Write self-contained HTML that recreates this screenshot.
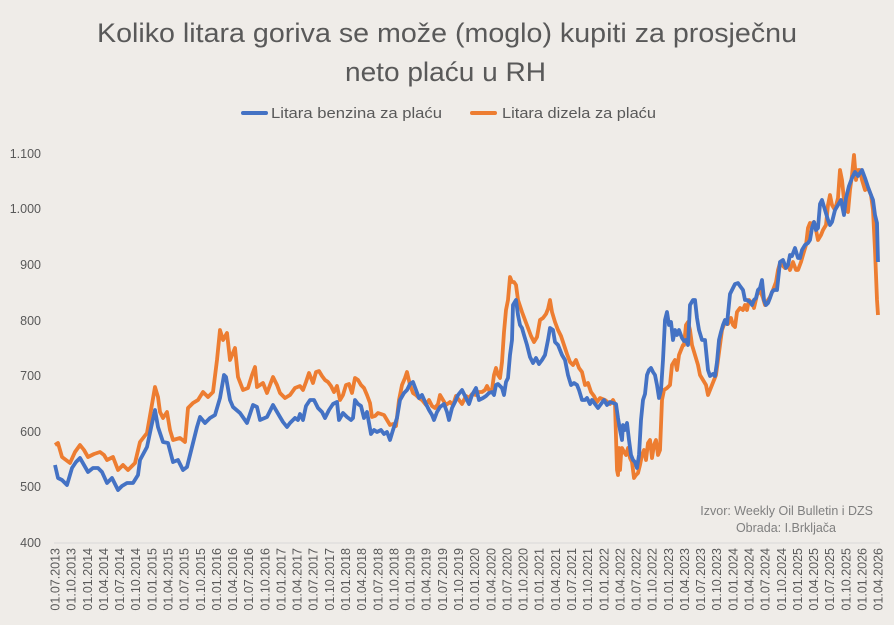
<!DOCTYPE html>
<html><head><meta charset="utf-8"><style>
html,body{margin:0;padding:0;background:#EFECE8;}
svg{display:block;font-family:"Liberation Sans",sans-serif;}
</style></head><body>
<svg width="894" height="625" viewBox="0 0 894 625">
<rect width="894" height="625" fill="#EFECE8"/>
<text x="97" y="42" textLength="700" lengthAdjust="spacingAndGlyphs" font-size="27" fill="#595959">Koliko litara goriva se može (moglo) kupiti za prosječnu</text>
<text x="345" y="81" textLength="201" lengthAdjust="spacingAndGlyphs" font-size="27" fill="#595959">neto plaću u RH</text>
<line x1="243" y1="113" x2="266" y2="113" stroke="#4472C4" stroke-width="4" stroke-linecap="round"/>
<text x="271" y="118" textLength="171" lengthAdjust="spacingAndGlyphs" font-size="15" fill="#595959">Litara benzina za plaću</text>
<line x1="472" y1="113" x2="495" y2="113" stroke="#ED7D31" stroke-width="4" stroke-linecap="round"/>
<text x="502" y="118" textLength="154" lengthAdjust="spacingAndGlyphs" font-size="15" fill="#595959">Litara dizela za plaću</text>
<g font-size="12.5" fill="#595959" text-anchor="end">
<text x="41" y="158">1.100</text><text x="41" y="213">1.000</text><text x="41" y="269">900</text><text x="41" y="325">800</text><text x="41" y="380">700</text><text x="41" y="436">600</text><text x="41" y="491">500</text><text x="41" y="547">400</text>
</g>
<line x1="54" y1="543" x2="880" y2="543" stroke="#D9D9D9" stroke-width="1"/>
<text x="873" y="515" text-anchor="end" font-size="12.5" fill="#7F7F7F">Izvor: Weekly Oil Bulletin i DZS</text>
<text x="836" y="532" text-anchor="end" font-size="12.5" fill="#7F7F7F">Obrada: I.Brkljača</text>
<g font-size="12.5" fill="#595959" text-anchor="end">
<text transform="translate(59.5,548) rotate(-90)">01.07.2013</text>
<text transform="translate(75.6,548) rotate(-90)">01.10.2013</text>
<text transform="translate(91.8,548) rotate(-90)">01.01.2014</text>
<text transform="translate(107.9,548) rotate(-90)">01.04.2014</text>
<text transform="translate(124.1,548) rotate(-90)">01.07.2014</text>
<text transform="translate(140.2,548) rotate(-90)">01.10.2014</text>
<text transform="translate(156.3,548) rotate(-90)">01.01.2015</text>
<text transform="translate(172.5,548) rotate(-90)">01.04.2015</text>
<text transform="translate(188.6,548) rotate(-90)">01.07.2015</text>
<text transform="translate(204.8,548) rotate(-90)">01.10.2015</text>
<text transform="translate(220.9,548) rotate(-90)">01.01.2016</text>
<text transform="translate(237.0,548) rotate(-90)">01.04.2016</text>
<text transform="translate(253.2,548) rotate(-90)">01.07.2016</text>
<text transform="translate(269.3,548) rotate(-90)">01.10.2016</text>
<text transform="translate(285.5,548) rotate(-90)">01.01.2017</text>
<text transform="translate(301.6,548) rotate(-90)">01.04.2017</text>
<text transform="translate(317.7,548) rotate(-90)">01.07.2017</text>
<text transform="translate(333.9,548) rotate(-90)">01.10.2017</text>
<text transform="translate(350.0,548) rotate(-90)">01.01.2018</text>
<text transform="translate(366.2,548) rotate(-90)">01.04.2018</text>
<text transform="translate(382.3,548) rotate(-90)">01.07.2018</text>
<text transform="translate(398.4,548) rotate(-90)">01.10.2018</text>
<text transform="translate(414.6,548) rotate(-90)">01.01.2019</text>
<text transform="translate(430.7,548) rotate(-90)">01.04.2019</text>
<text transform="translate(446.9,548) rotate(-90)">01.07.2019</text>
<text transform="translate(463.0,548) rotate(-90)">01.10.2019</text>
<text transform="translate(479.1,548) rotate(-90)">01.01.2020</text>
<text transform="translate(495.3,548) rotate(-90)">01.04.2020</text>
<text transform="translate(511.4,548) rotate(-90)">01.07.2020</text>
<text transform="translate(527.6,548) rotate(-90)">01.10.2020</text>
<text transform="translate(543.7,548) rotate(-90)">01.01.2021</text>
<text transform="translate(559.8,548) rotate(-90)">01.04.2021</text>
<text transform="translate(576.0,548) rotate(-90)">01.07.2021</text>
<text transform="translate(592.1,548) rotate(-90)">01.10.2021</text>
<text transform="translate(608.3,548) rotate(-90)">01.01.2022</text>
<text transform="translate(624.4,548) rotate(-90)">01.04.2022</text>
<text transform="translate(640.5,548) rotate(-90)">01.07.2022</text>
<text transform="translate(656.7,548) rotate(-90)">01.10.2022</text>
<text transform="translate(672.8,548) rotate(-90)">01.01.2023</text>
<text transform="translate(689.0,548) rotate(-90)">01.04.2023</text>
<text transform="translate(705.1,548) rotate(-90)">01.07.2023</text>
<text transform="translate(721.2,548) rotate(-90)">01.10.2023</text>
<text transform="translate(737.4,548) rotate(-90)">01.01.2024</text>
<text transform="translate(753.5,548) rotate(-90)">01.04.2024</text>
<text transform="translate(769.7,548) rotate(-90)">01.07.2024</text>
<text transform="translate(785.8,548) rotate(-90)">01.10.2024</text>
<text transform="translate(801.9,548) rotate(-90)">01.01.2025</text>
<text transform="translate(818.1,548) rotate(-90)">01.04.2025</text>
<text transform="translate(834.2,548) rotate(-90)">01.07.2025</text>
<text transform="translate(850.4,548) rotate(-90)">01.10.2025</text>
<text transform="translate(866.5,548) rotate(-90)">01.01.2026</text>
<text transform="translate(882.6,548) rotate(-90)">01.04.2026</text>
</g>
<polyline fill="none" stroke="#ED7D31" stroke-width="3.8" stroke-linejoin="round" points="55,445 58,443 62,457 66,460 70,463 75,452 80,445 84,450 88,457 94,454 100,452 104,455 107,460 113,457 118,470 123,465 128,470 135,463 140,442 147,433 151,410 155,387 158,397 160,412 163,418 167,412 170,430 173,440 180,438 185,442 188,408 193,403 198,400 203,392 208,397 213,392 217,360 220,330 223,340 227,333 230,360 235,348 238,377 243,390 248,388 252,375 255,367 257,387 263,383 267,393 273,377 277,385 280,393 285,398 290,395 295,388 300,386 303,390 306,382 309,373 313,383 316,372 319,371 322,376 325,380 328,382 331,386 334,392 337,386 340,400 343,395 346,385 349,384 352,393 355,378 358,380 361,385 364,388 367,395 370,403 372,417 375,416 378,413 381,414 384,415 387,420 390,425 393,424 396,426 399,400 402,385 405,378 407,372 410,385 413,393 416,395 419,398 422,400 426,405 429,400 432,406 435,408 438,404 440,395 443,400 446,405 450,402 453,405 456,396 459,400 462,404 466,396 469,398 472,394 476,395 479,392 482,392 485,390 487,386 490,392 492,390 494,375 496,368 498,375 500,378 502,362 504,332 506,310 508,300 510,277 512,282 514,282 516,285 518,300 520,306 522,312 525,320 528,328 531,336 534,342 537,337 540,320 543,318 546,314 548,309 550,300 552,312 555,322 558,330 561,336 564,345 567,354 570,362 573,365 576,360 579,368 582,372 585,385 588,383 591,392 594,396 597,402 600,398 605,400 610,404 613,400 615,404 617,470 618,475 619,448 620,470 621,455 622,448 624,452 626,455 628,448 630,458 632,462 634,478 636,475 638,473 640,465 642,455 644,450 646,460 648,443 650,440 652,458 654,445 656,440 658,455 660,450 662,400 664,390 667,388 670,385 672,365 675,360 677,370 679,355 681,350 683,345 684,345 686,325 688,322 690,330 692,345 695,355 698,365 700,375 703,380 706,385 708,395 710,390 712,385 714,380 716,375 718,360 720,345 722,330 725,322 728,324 731,318 733,325 735,327 737,312 740,308 743,310 745,305 747,310 749,300 752,303 754,308 757,295 760,290 763,298 765,305 768,300 770,297 773,290 776,282 778,270 780,263 782,265 785,268 788,265 790,270 793,262 796,270 798,270 801,262 803,255 806,245 808,228 810,223 812,224 814,222 816,230 818,240 821,235 823,230 826,225 828,205 830,195 832,205 835,210 838,198 840,170 842,180 844,200 846,210 848,212 850,190 852,175 854,155 856,180 858,170 860,170 862,180 865,190 868,188 871,195 873,210 875,250 877,300 878,315"/>
<polyline fill="none" stroke="#4472C4" stroke-width="3.8" stroke-linejoin="round" points="55,465 58,478 62,480 67,485 72,468 76,462 80,458 84,465 88,472 93,468 98,468 102,472 107,483 112,478 118,490 122,486 127,483 133,483 138,475 140,460 147,447 151,428 155,410 158,427 163,442 168,443 173,462 178,460 183,470 187,467 192,447 197,427 200,417 205,423 210,418 215,415 220,398 224,375 226,377 230,400 233,407 240,413 247,423 253,405 257,407 260,420 267,417 273,405 280,417 283,422 287,427 290,423 295,418 298,420 300,414 303,420 306,406 310,400 314,400 318,408 322,412 325,418 329,410 333,404 337,402 339,420 343,413 347,417 351,420 353,418 355,400 358,404 361,406 364,418 367,412 371,434 374,430 377,432 381,430 384,434 387,432 390,440 393,430 397,418 400,400 404,393 407,390 410,384 413,382 416,390 419,398 422,395 426,404 429,410 432,415 434,420 437,412 440,407 444,404 447,412 449,420 452,408 455,402 458,395 462,390 466,398 469,404 472,395 476,388 479,400 483,398 486,396 489,393 492,392 494,395 496,385 498,384 502,388 504,395 506,382 508,378 510,355 512,340 513,305 516,300 518,315 520,325 522,328 524,335 527,345 530,357 533,363 536,358 539,364 542,360 545,355 548,340 550,328 553,330 555,342 558,345 562,355 565,360 568,375 571,385 574,383 577,385 579,390 582,400 585,400 587,398 590,404 592,400 595,404 598,408 601,404 604,400 607,405 610,402 613,403 616,404 618,418 620,430 622,440 623,425 625,430 627,423 629,440 631,455 633,460 635,462 637,468 639,455 641,420 643,400 645,394 647,375 649,370 651,368 653,372 655,375 657,385 659,398 661,390 663,360 665,320 667,312 669,325 671,322 673,340 675,330 677,335 679,330 682,338 684,341 686,340 688,345 690,305 693,300 695,300 697,318 699,330 702,340 705,340 708,370 710,376 713,374 715,376 717,362 719,340 721,332 723,325 725,320 727,324 730,294 732,290 735,284 738,283 740,286 743,290 745,300 747,300 750,302 752,305 754,300 756,298 758,290 760,288 762,280 764,300 766,305 768,303 770,298 772,292 774,290 777,290 780,262 783,260 786,268 788,265 790,255 792,256 795,248 798,258 800,258 802,250 805,245 808,243 810,240 812,228 814,222 816,230 818,228 820,204 822,200 825,210 828,220 830,225 832,222 835,210 838,205 841,200 844,215 846,198 849,186 852,178 855,172 858,176 862,170 865,178 868,187 871,195 873,200 875,215 877,223 878,262"/>
</svg>
</body></html>
